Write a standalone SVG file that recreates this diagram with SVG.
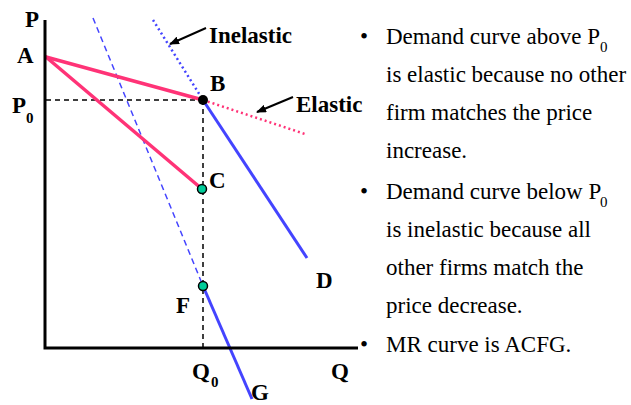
<svg xmlns="http://www.w3.org/2000/svg" width="631" height="405" viewBox="0 0 631 405">
<defs>
<style>
.lbl{font-family:"Liberation Serif","Times New Roman","DejaVu Serif",serif;font-weight:bold;font-size:23px;fill:#000}
.sub{font-family:"Liberation Serif","Times New Roman","DejaVu Serif",serif;font-weight:bold;font-size:15px;fill:#000}
.txt{font-family:"Liberation Serif","Times New Roman","DejaVu Serif",serif;font-weight:normal;font-style:normal;font-size:23px;fill:#000}
.tsub{font-family:"Liberation Serif","Times New Roman","DejaVu Serif",serif;font-weight:normal;font-size:15px;fill:#000}
.axis{stroke:#000;stroke-width:3;fill:none}
.guide{stroke:#000;stroke-width:1.5;stroke-dasharray:5 4;fill:none}
.pink{stroke:#FF3377;stroke-width:3.5;fill:none;stroke-linecap:round}
.blue{stroke:#4444FF;stroke-width:3;fill:none}
.pinkdot{stroke:#FF3377;stroke-width:2.5;stroke-dasharray:2 3;fill:none}
.bluedot{stroke:#4444FF;stroke-width:2.5;stroke-dasharray:2 3;fill:none}
.bluedash{stroke:#4444FF;stroke-width:1.5;stroke-dasharray:6 4;fill:none}
.ptr{stroke:#000;stroke-width:2;fill:none;marker-end:url(#ah)}
.dot{fill:#00CC99;stroke:#000;stroke-width:1.5}
</style>
<marker id="ah" markerWidth="10" markerHeight="8" refX="9" refY="4" orient="auto" markerUnits="userSpaceOnUse">
<path d="M0,0 L10,4 L0,8 Z" fill="#000"/>
</marker>
</defs>
<rect width="631" height="405" fill="#fff"/>
<g id="connectors">
<line class="guide" x1="46" y1="100" x2="203" y2="100"/>
<line class="guide" x1="203" y1="100" x2="203" y2="348"/>
<line class="bluedash" x1="93" y1="18" x2="203" y2="286"/>
<line class="bluedot" x1="153" y1="20" x2="203" y2="100"/>
<line class="pinkdot" x1="203" y1="100" x2="305" y2="134"/>
<line class="pink" x1="46" y1="57" x2="203" y2="100"/>
<line class="pink" x1="46" y1="57" x2="202" y2="189"/>
<line class="blue" x1="203" y1="100" x2="307" y2="258"/>
<line class="blue" x1="203" y1="286" x2="252" y2="399"/>
<path class="axis" d="M45,20 V348 H358"/>
<line class="ptr" x1="206" y1="28" x2="170" y2="44"/>
<line class="ptr" x1="293" y1="97" x2="257" y2="112"/>
</g>
<g id="node-P"><text class="lbl" x="25" y="27">P</text></g>
<g id="node-A"><text class="lbl" x="17" y="63">A</text></g>
<g id="node-P0"><text class="lbl" x="12" y="113">P</text><text class="sub" x="26" y="123">0</text></g>
<g id="node-B"><circle cx="203" cy="100" r="5" fill="#000"/><text class="lbl" x="210" y="91">B</text></g>
<g id="node-C"><circle class="dot" cx="202" cy="189" r="4.5"/><text class="lbl" x="209" y="188">C</text></g>
<g id="node-D"><text class="lbl" x="316" y="288">D</text></g>
<g id="node-F"><circle class="dot" cx="203" cy="286" r="4.5"/><text class="lbl" x="176" y="313">F</text></g>
<g id="node-G"><text class="lbl" x="251" y="400">G</text></g>
<g id="node-Q0"><text class="lbl" x="192" y="379">Q</text><text class="sub" x="211" y="387">0</text></g>
<g id="node-Q"><text class="lbl" x="331" y="379">Q</text></g>
<g id="node-Inelastic"><text class="lbl" x="209" y="43">Inelastic</text></g>
<g id="node-Elastic"><text class="lbl" x="296" y="112">Elastic</text></g>
<g id="notes">
<text class="txt" x="360" y="44">•</text>
<text class="txt" x="386" y="44">Demand curve above P</text><text class="tsub" x="600" y="52">0</text>
<text class="txt" x="386" y="82">is elastic because no other</text>
<text class="txt" x="386" y="120">firm matches the price</text>
<text class="txt" x="386" y="158">increase.</text>
<text class="txt" x="360" y="199">•</text>
<text class="txt" x="386" y="199">Demand curve below P</text><text class="tsub" x="600" y="207">0</text>
<text class="txt" x="386" y="237">is inelastic because all</text>
<text class="txt" x="386" y="275">other firms match the</text>
<text class="txt" x="386" y="313">price decrease.</text>
<text class="txt" x="360" y="352">•</text>
<text class="txt" x="386" y="352">MR curve is ACFG.</text>
</g>
</svg>
